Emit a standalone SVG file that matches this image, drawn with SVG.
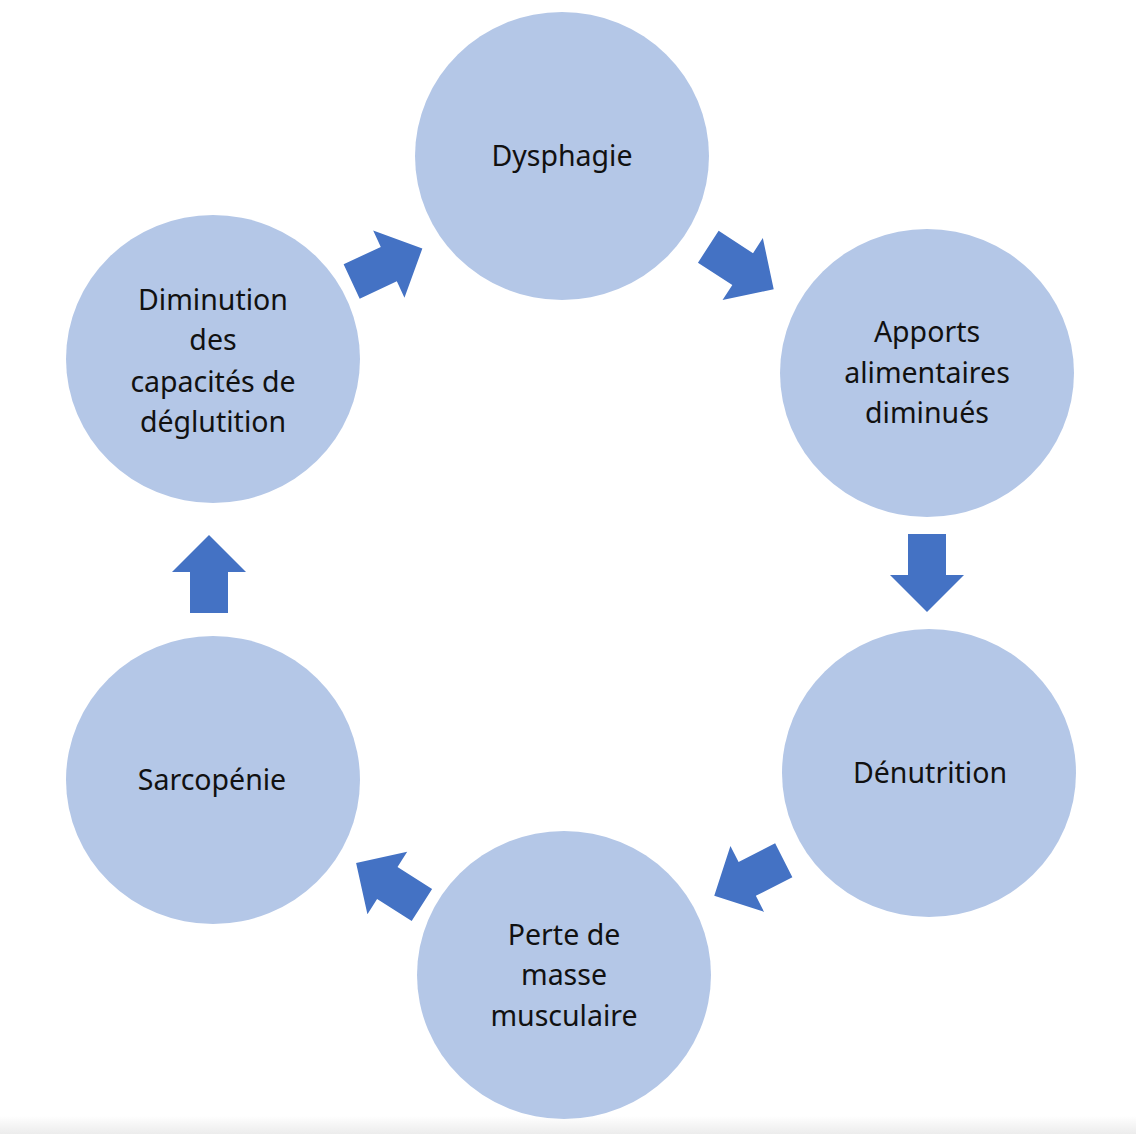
<svg xmlns="http://www.w3.org/2000/svg" width="1136" height="1134" viewBox="0 0 1136 1134">
<defs>
<style>
.node{fill:#B4C7E7;}
.lbl{font-family:"Noto Sans","Open Sans",sans-serif;font-size:28.5px;fill:#111;text-anchor:middle;}
.arr{fill:#4472C4;}
</style>
<path id="blk" d="M-39,-19 L2,-19 L2,-37 L39,0 L2,37 L2,19 L-39,19 Z"/>
<linearGradient id="bot" x1="0" y1="0" x2="0" y2="1">
<stop offset="0" stop-color="#ffffff"/>
<stop offset="1" stop-color="#ececec"/>
</linearGradient>
</defs>
<rect width="1136" height="1134" fill="#fff"/>
<rect y="1116" width="1136" height="18" fill="url(#bot)"/>
<g id="n1"><ellipse class="node" cx="562" cy="156" rx="147" ry="144"/><text class="lbl" x="562" y="166">Dysphagie</text></g>
<g id="n2"><ellipse class="node" cx="927" cy="373" rx="147" ry="144"/><text class="lbl" x="927" y="342">Apports</text><text class="lbl" x="927" y="383">alimentaires</text><text class="lbl" x="927" y="423">diminués</text></g>
<g id="n3"><ellipse class="node" cx="929" cy="773" rx="147" ry="144"/><text class="lbl" x="930" y="783">Dénutrition</text></g>
<g id="n4"><ellipse class="node" cx="564" cy="975" rx="147" ry="144"/><text class="lbl" x="564" y="945">Perte de</text><text class="lbl" x="564" y="985">masse</text><text class="lbl" x="564" y="1026">musculaire</text></g>
<g id="n5"><ellipse class="node" cx="213" cy="780" rx="147" ry="144"/><text class="lbl" x="212" y="790">Sarcopénie</text></g>
<g id="n6"><ellipse class="node" cx="213" cy="359" rx="147" ry="144"/><text class="lbl" x="213" y="310">Diminution</text><text class="lbl" x="213" y="350">des</text><text class="lbl" x="213" y="392">capacités de</text><text class="lbl" x="213" y="432">déglutition</text></g>
<g id="connectors">
<use href="#blk" class="arr" transform="translate(741,268) rotate(33)"/>
<use href="#blk" class="arr" transform="translate(927,573) rotate(90)"/>
<use href="#blk" class="arr" transform="translate(749,878) rotate(153)"/>
<use href="#blk" class="arr" transform="translate(389,884) rotate(-147.5)"/>
<use href="#blk" class="arr" transform="translate(209,574) rotate(-90)"/>
<use href="#blk" class="arr" transform="translate(387,265) rotate(-25)"/>
</g>
</svg>
